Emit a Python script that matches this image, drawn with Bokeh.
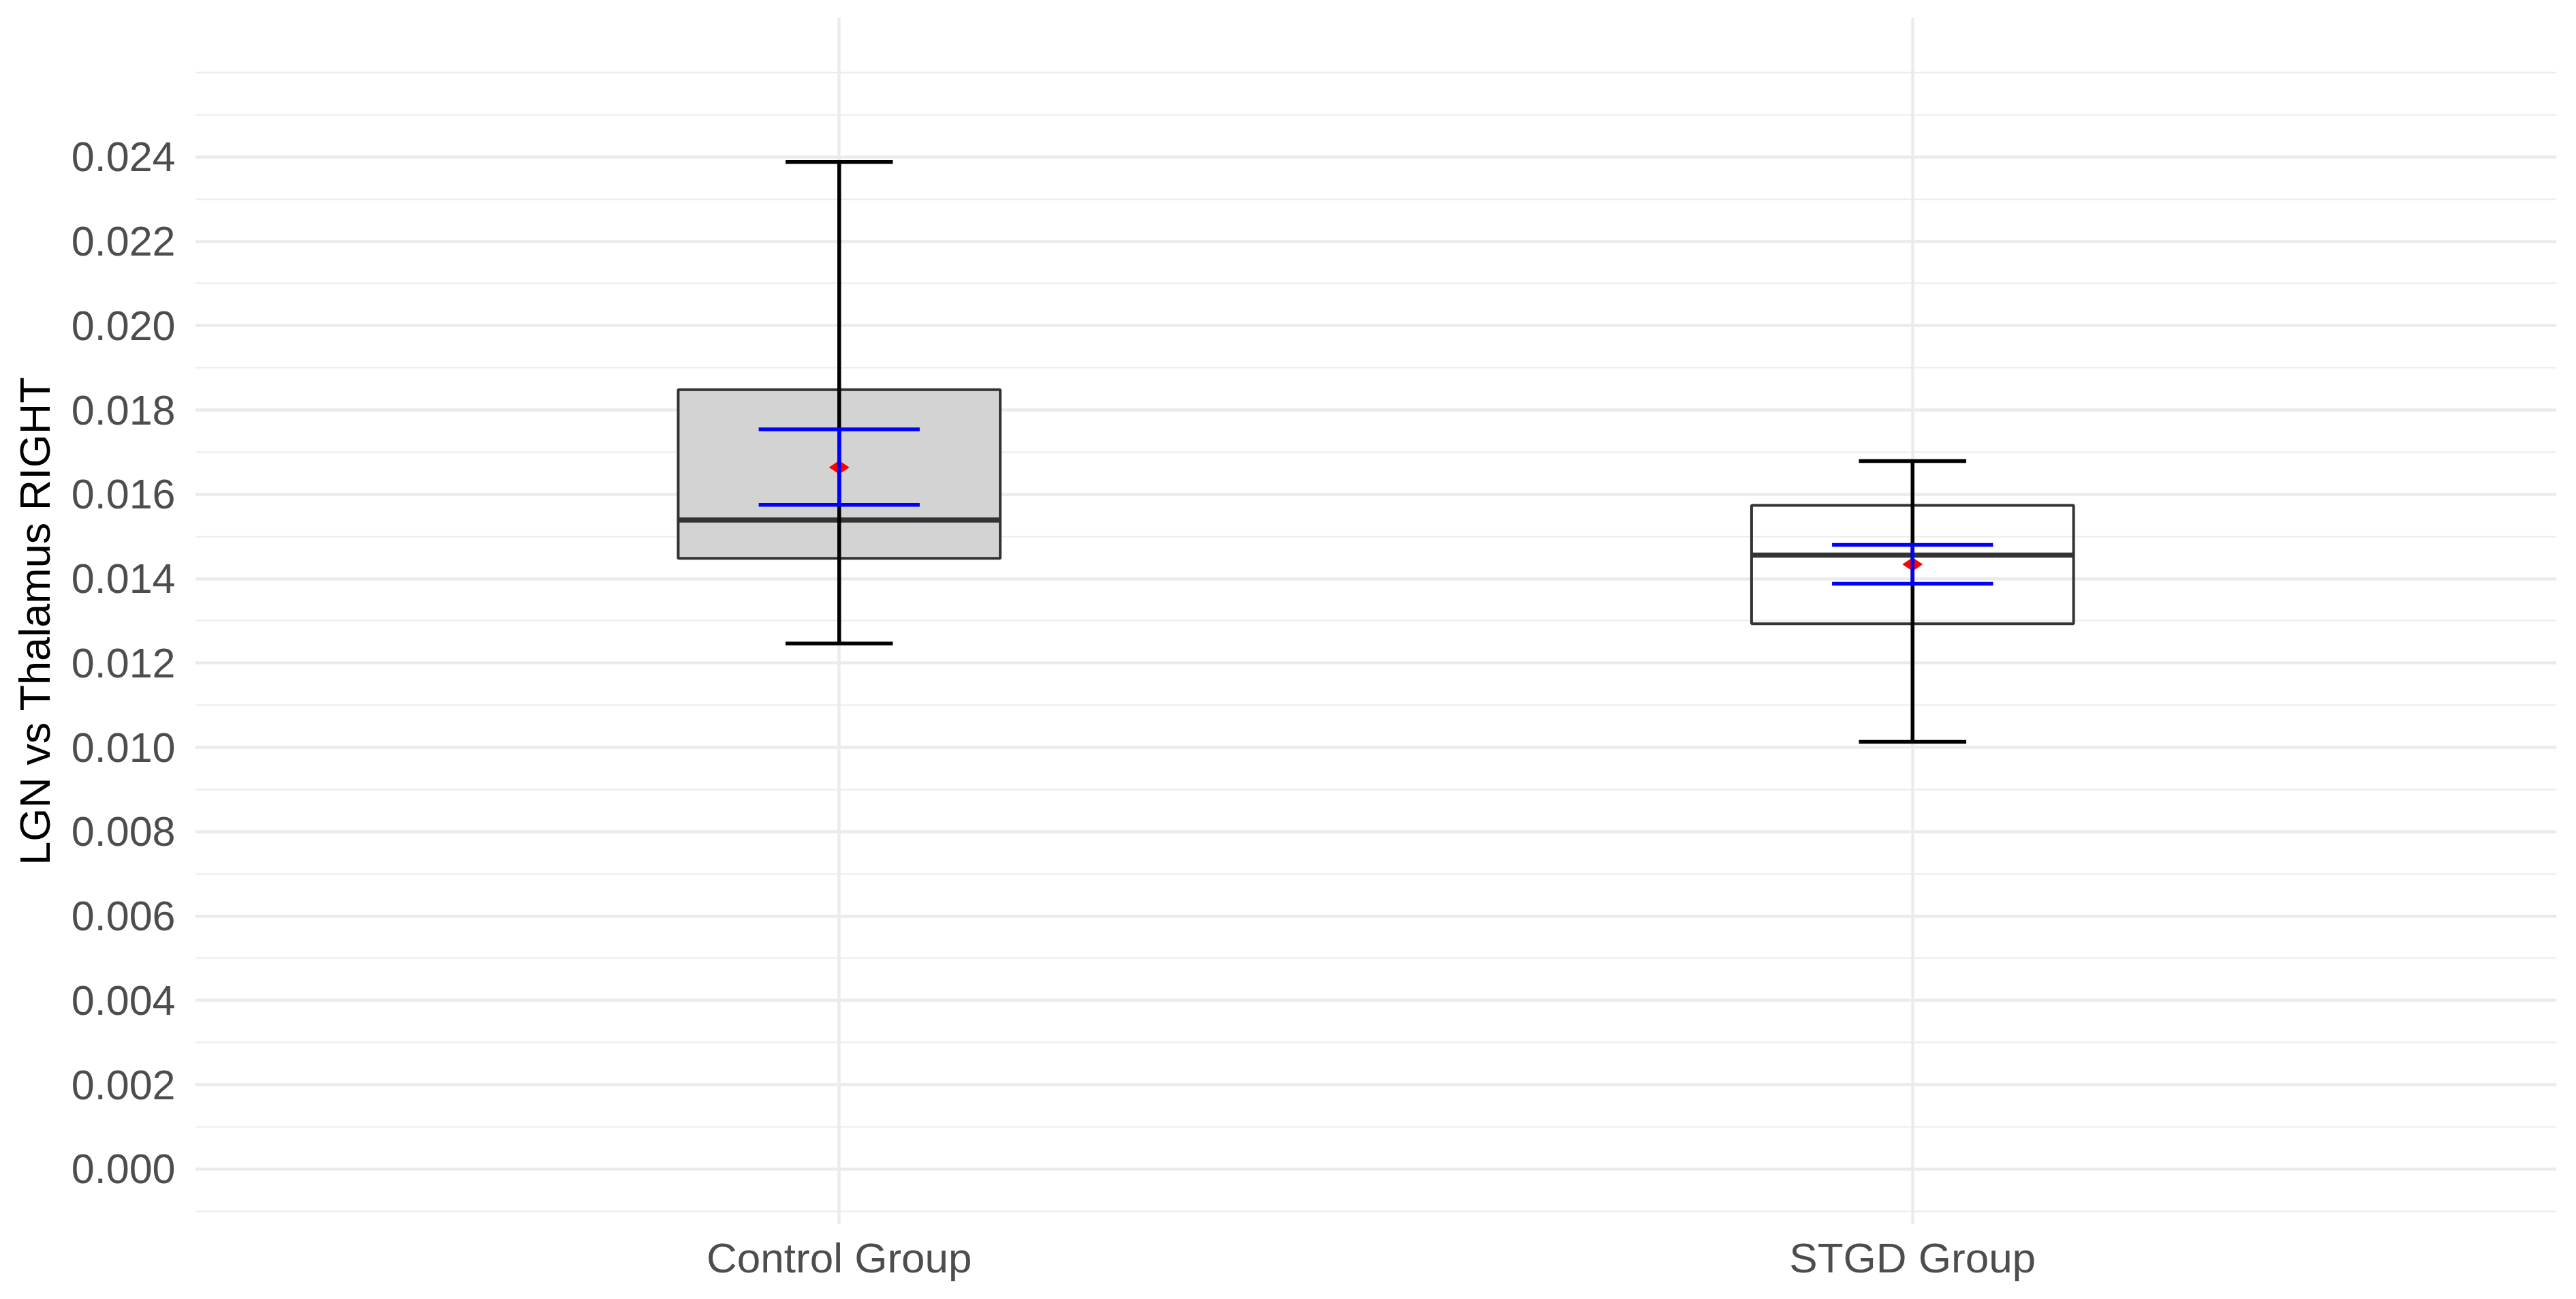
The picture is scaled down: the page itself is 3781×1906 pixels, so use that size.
import math
from bokeh.plotting import figure
from bokeh.models import Range1d, FixedTicker, PrintfTickFormatter, ColumnDataSource, CustomJSTickFormatter
from bokeh.transform import dodge
from bokeh.embed import file_html
from bokeh.resources import INLINE

# ---- data ----
groups = ["Control Group", "STGD Group"]
whisker_low = [0.01246, 0.01013]
q1 = [0.01448, 0.01293]
median = [0.01539, 0.01456]
q3 = [0.01848, 0.01574]
whisker_high = [0.02388, 0.01679]
mean = [0.01664, 0.01434]
ci_low = [0.01575, 0.01388]
ci_high = [0.01754, 0.01480]

y_ticks = [0.000, 0.002, 0.004, 0.006, 0.008, 0.010, 0.012,
           0.014, 0.016, 0.018, 0.020, 0.022, 0.024]
y_minor = [-0.001, 0.001, 0.003, 0.005, 0.007, 0.009, 0.011, 0.013,
           0.015, 0.017, 0.019, 0.021, 0.023, 0.025, 0.026]

# ---- styles ----
box_fills = ["#D3D3D3", None]
FONT = "Liberation Sans"

x_pos = list(range(1, len(groups) + 1))

src = ColumnDataSource(dict(
    x=x_pos, wl=whisker_low, q1=q1, med=median, q3=q3, wh=whisker_high,
    mean=mean, cl=ci_low, ch=ci_high,
    fill=[c if c else "white" for c in box_fills],
    falpha=[1.0 if c else 0.0 for c in box_fills],
))

p = figure(width=3765, height=1890, output_backend="svg", toolbar_location=None,
           x_range=Range1d(0.4, 2.6), y_range=Range1d(-0.001312, 0.02731),
           min_border_left=286, min_border_right=13, min_border_top=25,
           min_border_bottom=94)
p.outline_line_color = None
p.background_fill_color = "white"
p.border_fill_color = "white"

# axes
p.xaxis.ticker = FixedTicker(ticks=x_pos)
p.xaxis.formatter = CustomJSTickFormatter(args=dict(names=groups),
                                          code="const i = Math.round(tick) - 1; return names[i] || '';")
p.yaxis.ticker = FixedTicker(ticks=y_ticks, minor_ticks=y_minor)
p.yaxis.formatter = PrintfTickFormatter(format="%.3f")

for ax in (p.xaxis[0], p.yaxis[0]):
    ax.axis_line_color = None
    ax.major_tick_line_color = None
    ax.minor_tick_line_color = None
    ax.major_tick_out = 0
    ax.major_tick_in = 0
    ax.minor_tick_out = 0
    ax.minor_tick_in = 0
    ax.major_label_text_font = FONT
    ax.major_label_text_color = "#4D4D4D"

p.yaxis.major_label_text_font_size = "61px"
p.yaxis.major_label_standoff = 29
p.yaxis.axis_label = "LGN vs Thalamus RIGHT"
p.yaxis.axis_label_text_font = FONT
p.yaxis.axis_label_text_font_size = "63px"
p.yaxis.axis_label_text_font_style = "normal"
p.yaxis.axis_label_text_color = "black"
p.yaxis.axis_label_standoff = 16

p.xaxis.major_label_text_font_size = "62px"
p.xaxis.major_label_standoff = 14

# grids
p.xgrid.grid_line_color = "#EBEBEB"
p.xgrid.grid_line_width = 4.4
p.ygrid.grid_line_color = "#EBEBEB"
p.ygrid.grid_line_width = 4.4
p.ygrid.minor_grid_line_color = "#EBEBEB"
p.ygrid.minor_grid_line_width = 2.2

# boxes
p.vbar(x="x", width=0.3, bottom="q1", top="q3", source=src,
       fill_color="fill", fill_alpha="falpha", line_color="#333333", line_width=4)
# medians
p.segment(x0=dodge("x", -0.15), x1=dodge("x", 0.15), y0="med", y1="med",
          source=src, line_color="#333333", line_width=7.5)
# whiskers (error bar style)
p.segment(x0="x", x1="x", y0="wl", y1="wh", source=src, line_color="black", line_width=5.5)
p.segment(x0=dodge("x", -0.05), x1=dodge("x", 0.05), y0="wh", y1="wh",
          source=src, line_color="black", line_width=5.5)
p.segment(x0=dodge("x", -0.05), x1=dodge("x", 0.05), y0="wl", y1="wl",
          source=src, line_color="black", line_width=5.5)
# mean
p.scatter(x="x", y="mean", source=src, marker="diamond", size=30, angle=math.pi / 2,
          fill_color="red", line_color="red", line_width=0)
# mean error bars (blue)
p.segment(x0="x", x1="x", y0="cl", y1="ch", source=src, line_color="blue", line_width=5.5)
p.segment(x0=dodge("x", -0.075), x1=dodge("x", 0.075), y0="ch", y1="ch",
          source=src, line_color="blue", line_width=5.5)
p.segment(x0=dodge("x", -0.075), x1=dodge("x", 0.075), y0="cl", y1="cl",
          source=src, line_color="blue", line_width=5.5)

open("out.html", "w").write(file_html(p, INLINE))
